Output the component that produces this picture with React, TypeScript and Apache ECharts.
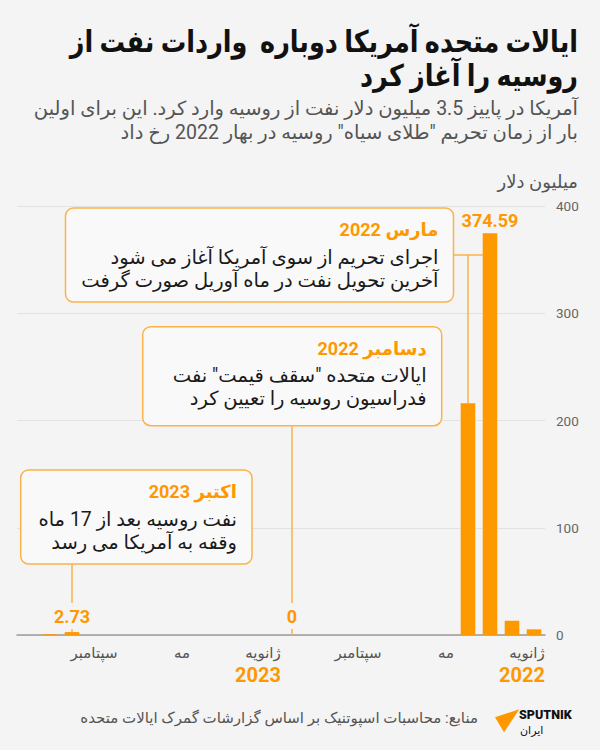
import React, { useEffect, useRef } from 'react';
import * as echarts from 'echarts';

// ---------- data ----------
const categories = [
  '2022-01', '2022-02', '2022-03', '2022-04', '2022-05', '2022-06',
  '2022-07', '2022-08', '2022-09', '2022-10', '2022-11', '2022-12',
  '2023-01', '2023-02', '2023-03', '2023-04', '2023-05', '2023-06',
  '2023-07', '2023-08', '2023-09', '2023-10', '2023-11', '2023-12',
];
// million USD
const values: (number | null)[] = [
  5.3, 13.3, 374.59, 216, 0, 0, 0, 0, 0, 0, 0, 0,
  0, 0, 0, 0, 0, 0, 0, 0, 0, 2.73, 0.77, null,
];
const labeledIndices = [2, 11, 21];
const monthTickLabels: Record<string, string> = { '01': 'ژانویه', '05': 'مه', '09': 'سپتامبر' };
const yearLabels = [
  { category: '2022-01', text: '2022' },
  { category: '2023-01', text: '2023' },
];
const yTicks = [0, 100, 200, 300, 400];

const titleLines = ['ایالات متحده آمریکا دوباره  واردات نفت از', 'روسیه را آغاز کرد'];
const subtitleLines = [
  'آمریکا در پاییز 3.5 میلیون دلار نفت از روسیه وارد کرد. این برای اولین',
  'بار از زمان تحریم "طلای سیاه" روسیه در بهار 2022 رخ داد',
];
const unitLabel = 'میلیون دلار';
const sourceText = 'منابع: محاسبات اسپوتنیک بر اساس گزارشات گمرک ایالات متحده';
const notes = [
  { title: 'مارس 2022', lines: ['اجرای تحریم از سوی آمریکا آغاز می شود', 'آخرین تحویل نفت در ماه آوریل صورت گرفت'] },
  { title: 'دسامبر 2022', lines: ['ایالات متحده "سقف قیمت" نفت', 'فدراسیون روسیه را تعیین کرد'] },
  { title: 'اکتبر 2023', lines: ['نفت روسیه بعد از 17 ماه', 'وقفه به آمریکا می رسد'] },
];

// ---------- styles ----------
const BG = '#f4f4f4';
const ORANGE = '#ff9800';
const BAR = '#ff9900';
const LINE = '#fbb24a';
const FONT = "Roboto, 'DejaVu Sans', sans-serif";
const BAR_W = 14.6;

export default function App() {
  const ref = useRef<HTMLDivElement>(null);
  useEffect(() => {
    if (!ref.current) return;
    const chart = echarts.init(ref.current, null, { renderer: 'svg' });

    const seriesData = values.map((v, i) =>
      labeledIndices.includes(i)
        ? {
            value: v,
            label: {
              show: true,
              distance: i === 2 ? 4 : i === 11 ? 6 : 3,
              backgroundColor: i === 2 ? 'transparent' : BG,
              padding: i === 2 ? 0 : [4, 2, 4, 2],
            },
          }
        : v
    );

    chart.setOption({
      animation: false,
      backgroundColor: BG,
      textStyle: { fontFamily: FONT },
      grid: { left: 17, right: 55, top: 206, bottom: 115 },
      xAxis: {
        type: 'category',
        data: categories,
        inverse: true,
        axisLine: { lineStyle: { color: '#9a9a9a', width: 1.5 } },
        axisTick: { alignWithLabel: true, interval: 0, length: 6, lineStyle: { color: '#9a9a9a', width: 1.5 } },
        axisLabel: {
          interval: 0,
          margin: 8,
          formatter: (val: string) => {
            const m = val.slice(5);
            const t = monthTickLabels[m];
            if (!t) return '';
            return m === '01' ? `{j|${t}}` : `{m|${t}}`;
          },
          rich: {
            m: { fontSize: 15, color: '#555', lineHeight: 20, fontFamily: FONT },
            j: { fontSize: 15, color: '#555', lineHeight: 20, fontFamily: FONT, padding: [0, 14, 0, 0] },
          },
        },
      },
      yAxis: {
        type: 'value',
        position: 'right',
        min: yTicks[0],
        max: yTicks[yTicks.length - 1],
        interval: 100,
        axisLine: { show: false },
        axisTick: { show: false },
        splitLine: { lineStyle: { color: '#e2e2e2', width: 1 } },
        axisLabel: { color: '#666', fontSize: 13.5, margin: 11, fontFamily: FONT },
      },
      series: [
        {
          type: 'bar',
          data: seriesData,
          barWidth: BAR_W,
          itemStyle: { color: BAR },
          z: 2,
          label: {
            show: false,
            position: 'top',
            color: ORANGE,
            fontWeight: 'bold',
            fontSize: 18,
            lineHeight: 18,
            fontFamily: FONT,
            formatter: '{c}',
          },
        },
      ],
    });

    const pt = (i: number, v: number) => chart.convertToPixel({ gridIndex: 0 }, [i, v]) as number[];

    const boxes = [
      { x: 65.5, y: 208, w: 388, h: 94 },
      { x: 142.7, y: 326.7, w: 299, h: 99 },
      { x: 20.7, y: 470, w: 231.3, h: 94 },
    ];

    const graphic: any[] = [];
    const text = (
      t: string,
      x: number,
      y: number,
      font: string,
      fill: string,
      align = 'right',
      scaleX = 1,
      z = 20
    ) =>
      graphic.push({
        type: 'text',
        x,
        y,
        z,
        scaleX,
        style: { text: t, font, fill, textAlign: align, textVerticalAlign: 'middle' },
      });

    // title + subtitle
    text(titleLines[0], 578, 42, `bold 30px ${FONT}`, '#111', 'right', 0.85);
    text(titleLines[1], 578, 76, `bold 30px ${FONT}`, '#111', 'right', 0.85);
    text(subtitleLines[0], 578, 108, `19.5px ${FONT}`, '#555');
    text(subtitleLines[1], 578, 132, `19.5px ${FONT}`, '#555');
    text(unitLabel, 578, 181, `18px ${FONT}`, '#555');

    // year labels under January ticks
    yearLabels.forEach((yl) => {
      const p = pt(categories.indexOf(yl.category), 0);
      text(yl.text, p[0] + 11, 675, `bold 20px ${FONT}`, ORANGE);
    });

    // connectors
    const mar = pt(2, values[2] as number);
    const apr = pt(3, values[3] as number);
    const dec = pt(11, values[11] as number);
    const oct = pt(21, values[21] as number);
    const yA = 255;
    const lineStyle = { stroke: LINE, lineWidth: 1.5 };
    graphic.push({ type: 'line', z: 1, shape: { x1: boxes[0].x + boxes[0].w, y1: yA, x2: mar[0] - BAR_W / 2, y2: yA }, style: lineStyle });
    graphic.push({ type: 'line', z: 1, shape: { x1: apr[0], y1: yA, x2: apr[0], y2: apr[1] }, style: lineStyle });
    graphic.push({ type: 'line', z: 1, shape: { x1: dec[0], y1: boxes[1].y + boxes[1].h, x2: dec[0], y2: dec[1] }, style: lineStyle });
    graphic.push({ type: 'line', z: 1, shape: { x1: oct[0], y1: boxes[2].y + boxes[2].h, x2: oct[0], y2: oct[1] }, style: lineStyle });

    // note boxes
    boxes.forEach((b, k) => {
      graphic.push({
        type: 'rect',
        z: 10,
        shape: { x: b.x, y: b.y, width: b.w, height: b.h, r: 8 },
        style: { fill: '#f9f9f9', stroke: LINE, lineWidth: 1.5 },
      });
      const rx = b.x + b.w - 15;
      text(notes[k].title, rx, b.y + 21.5, `bold 18px ${FONT}`, ORANGE);
      text(notes[k].lines[0], rx, b.y + 49, `19.5px ${FONT}`, '#1a1a1a');
      text(notes[k].lines[1], rx, b.y + 72, `19.5px ${FONT}`, '#1a1a1a');
    });

    // footer
    text(sourceText, 478, 718, `15px ${FONT}`, '#555');
    graphic.push({
      type: 'polygon',
      z: 20,
      shape: { points: [[495, 717.3], [519.3, 709.3], [504, 732.3]] },
      style: { fill: ORANGE },
    });
    text('SPUTNIK', 519, 714.5, `900 12.5px ${FONT}`, '#111', 'left');
    text('ایران', 520, 730, `11px ${FONT}`, '#111', 'left');

    chart.setOption({ graphic });

    return () => chart.dispose();
  }, []);

  return <div ref={ref} style={{ position: 'absolute', left: 0, top: 0, width: 600, height: 750, background: BG }} />;
}
